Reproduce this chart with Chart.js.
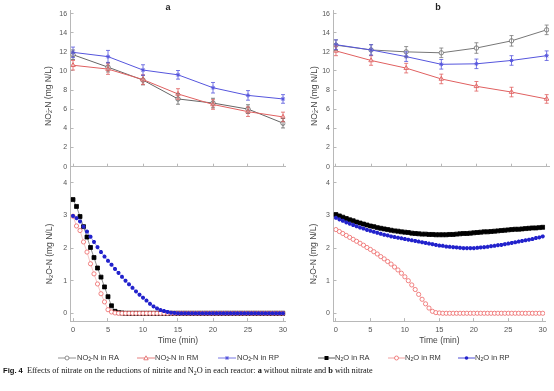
<!DOCTYPE html>
<html><head><meta charset="utf-8">
<script src="https://cdn.jsdelivr.net/npm/chart.js@4/dist/chart.umd.min.js"></script>
<style>
html,body{margin:0;padding:0;background:#fff;}
#wrap{position:relative;width:554px;height:391px;overflow:hidden;font-family:"Liberation Sans",Arial,sans-serif;color:#444;}
canvas{position:absolute;left:0;top:0;}
.t{position:absolute;white-space:nowrap;line-height:1;}
.yt{font-size:8.5px;color:#444;transform:translate(-50%,-50%) rotate(-90deg);}
.sub{font-size:0.7em;vertical-align:-0.25em;}
.sup{font-size:0.7em;vertical-align:0.45em;margin-left:-0.45em;}
.ttl{font-size:9px;font-weight:bold;color:#222;transform:translate(-50%,-50%);}
.lg{font-size:7.5px;color:#333;transform:translateY(-50%);}
.lgs{position:absolute;transform:translateY(-50%);}
.cap{font-size:8.25px;color:#111;font-family:"Liberation Serif","Times New Roman",serif;transform:translateY(-50%);}
.cap b.f{font-family:"Liberation Sans",Arial,sans-serif;font-size:7.6px;}
</style></head>
<body><div id="wrap">
<canvas id="ca1" width="554" height="391"></canvas>
<canvas id="cb1" width="554" height="391"></canvas>
<canvas id="ca2" width="554" height="391"></canvas>
<canvas id="cb2" width="554" height="391"></canvas>

<div class="t ttl" style="left:168px;top:7px;">a</div>
<div class="t ttl" style="left:438px;top:7px;">b</div>

<div class="t yt" style="left:49px;top:96px;">NO<span class="sub">2</span><span class="sup">-</span>-N (mg N/L)</div>
<div class="t yt" style="left:315px;top:96px;">NO<span class="sub">2</span><span class="sup">-</span>-N (mg N/L)</div>
<div class="t yt" style="left:50px;top:254px;">N<span class="sub">2</span>O-N (mg N/L)</div>
<div class="t yt" style="left:314px;top:254px;">N<span class="sub">2</span>O-N (mg N/L)</div>

<svg class="lgs" style="left:58px;top:358px" width="18" height="8"><line x1="0" y1="4" x2="18" y2="4" stroke="#777" stroke-width="0.8"/><circle cx="9" cy="4" r="2" fill="#fff" stroke="#777" stroke-width="0.8"/></svg>
<div class="t lg" style="left:77px;top:358px;">NO<span class="sub">2</span><span class="sup">-</span>-N in RA</div>
<svg class="lgs" style="left:137px;top:358px" width="18" height="8"><line x1="0" y1="4" x2="18" y2="4" stroke="#e06060" stroke-width="0.8"/><path d="M9 1.8 L11.2 5.8 L6.8 5.8 Z" fill="#fff" stroke="#e06060" stroke-width="0.8"/></svg>
<div class="t lg" style="left:155px;top:358px;">NO<span class="sub">2</span><span class="sup">-</span>-N in RM</div>
<svg class="lgs" style="left:218px;top:358px" width="18" height="8"><line x1="0" y1="4" x2="18" y2="4" stroke="#5555dd" stroke-width="0.8"/><path d="M9 2 L9 6 M7 4 L11 4 M7.6 2.6 L10.4 5.4 M10.4 2.6 L7.6 5.4" stroke="#5555dd" stroke-width="0.9"/></svg>
<div class="t lg" style="left:237px;top:358px;">NO<span class="sub">2</span><span class="sup">-</span>-N in RP</div>
<svg class="lgs" style="left:318px;top:358px" width="17" height="8"><line x1="0" y1="4" x2="17" y2="4" stroke="#333" stroke-width="0.8"/><rect x="6.5" y="2" width="4" height="4" fill="#000"/></svg>
<div class="t lg" style="left:335px;top:358px;">N<span class="sub">2</span>O in RA</div>
<svg class="lgs" style="left:388px;top:358px" width="17" height="8"><line x1="0" y1="4" x2="17" y2="4" stroke="#e88" stroke-width="0.8"/><circle cx="8.5" cy="4" r="2" fill="#fff" stroke="#e66" stroke-width="0.8"/></svg>
<div class="t lg" style="left:405px;top:358px;">N<span class="sub">2</span>O in RM</div>
<svg class="lgs" style="left:458px;top:358px" width="17" height="8"><line x1="0" y1="4" x2="17" y2="4" stroke="#2222cc" stroke-width="0.8"/><circle cx="8.5" cy="4" r="1.8" fill="#2222cc"/></svg>
<div class="t lg" style="left:475px;top:358px;">N<span class="sub">2</span>O in RP</div>

<div class="t cap" style="left:3px;top:372px;"><b class="f">Fig. 4</b>&nbsp;&nbsp;Effects of nitrate on the reductions of nitrite and N<span class="sub">2</span>O in each reactor: <b>a</b> without nitrate and <b>b</b> with nitrate</div>
</div>
<script>
// ---------- DATA ----------
const timeNO2 = [0, 5, 10, 15, 20, 25, 30];
const xTicks = [0, 5, 10, 15, 20, 25, 30];
const yTicksNO2 = [0, 2, 4, 6, 8, 10, 12, 14, 16];
const yTicksN2O = [0, 1, 2, 3, 4];

// Panel a (without nitrate) – NO2--N
const no2A_RA = [11.7, 10.4, 9.05, 7.08, 6.65, 6.02, 4.55];
const no2A_RA_err = [0.5, 0.5, 0.5, 0.55, 0.5, 0.45, 0.5];
const no2A_RM = [10.6, 10.2, 9.1, 7.6, 6.5, 5.75, 5.2];
const no2A_RM_err = [0.5, 0.55, 0.5, 0.55, 0.5, 0.5, 0.5];
const no2A_RP = [11.95, 11.5, 10.1, 9.6, 8.25, 7.45, 7.08];
const no2A_RP_err = [0.55, 0.65, 0.55, 0.45, 0.55, 0.5, 0.45];

// Panel b (with nitrate) – NO2--N
const no2B_RA = [12.7, 12.2, 12.0, 11.9, 12.4, 13.15, 14.3];
const no2B_RA_err = [0.55, 0.55, 0.55, 0.5, 0.55, 0.55, 0.5];
const no2B_RM = [12.1, 11.1, 10.3, 9.17, 8.4, 7.8, 7.08];
const no2B_RM_err = [0.5, 0.5, 0.5, 0.5, 0.5, 0.5, 0.45];
const no2B_RP = [12.75, 12.2, 11.5, 10.7, 10.75, 11.1, 11.6];
const no2B_RP_err = [0.5, 0.55, 0.5, 0.5, 0.5, 0.5, 0.5];

// N2O time points (min)
const timeN2O = [0,0.5,1,1.5,2,2.5,3,3.5,4,4.5,5,5.5,6,6.5,7,7.5,8,8.5,9,9.5,10,10.5,11,11.5,12,12.5,13,13.5,14,14.5,15,15.5,16,16.5,17,17.5,18,18.5,19,19.5,20,20.5,21,21.5,22,22.5,23,23.5,24,24.5,25,25.5,26,26.5,27,27.5,28,28.5,29,29.5,30];

// Panel a – N2O
const n2oA_RA = [3.49,3.28,2.97,2.66,2.34,2.02,1.71,1.39,1.11,0.81,0.51,0.23,0.06,0.02,0.01,0,0,0,0,0,0,0,0,0,0,0,0,0,0,0,0,0,0,0,0,0,0,0,0,0,0,0,0,0,0,0,0,0,0,0,0,0,0,0,0,0,0,0,0,0,0];
const n2oA_RM = [2.98,2.68,2.54,2.19,1.88,1.52,1.21,0.90,0.60,0.35,0.11,0.04,0.01,0,0,0,0,0,0,0,0,0,0,0,0,0,0,0,0,0,0,0,0,0,0,0,0,0,0,0,0,0,0,0,0,0,0,0,0,0,0,0,0,0,0,0,0,0,0,0,0];
const n2oA_RP = [2.99,2.92,2.82,2.66,2.51,2.35,2.19,2.03,1.88,1.74,1.61,1.49,1.36,1.24,1.12,1.00,0.89,0.78,0.67,0.57,0.48,0.39,0.29,0.21,0.15,0.10,0.07,0.04,0.02,0.01,0,0,0,0,0,0,0,0,0,0,0,0,0,0,0,0,0,0,0,0,0,0,0,0,0,0,0,0,0,0,0];

// Panel b – N2O
const n2oB_RA = [3.03,2.99,2.95,2.91,2.87,2.84,2.80,2.77,2.74,2.71,2.68,2.66,2.63,2.61,2.59,2.57,2.55,2.53,2.52,2.50,2.49,2.48,2.46,2.45,2.44,2.43,2.43,2.42,2.42,2.41,2.41,2.41,2.41,2.42,2.42,2.43,2.44,2.45,2.45,2.46,2.47,2.48,2.49,2.50,2.50,2.51,2.52,2.53,2.54,2.55,2.56,2.57,2.58,2.58,2.59,2.60,2.61,2.62,2.62,2.63,2.64];
const n2oB_RM = [2.57,2.51,2.45,2.39,2.33,2.27,2.21,2.15,2.09,2.02,1.96,1.89,1.82,1.74,1.67,1.59,1.51,1.42,1.33,1.23,1.12,1.00,0.87,0.73,0.58,0.43,0.29,0.16,0.06,0.02,0.01,0,0,0,0,0,0,0,0,0,0,0,0,0,0,0,0,0,0,0,0,0,0,0,0,0,0,0,0,0,0];
const n2oB_RP = [2.93,2.88,2.84,2.79,2.75,2.71,2.67,2.63,2.60,2.56,2.53,2.50,2.47,2.44,2.41,2.39,2.36,2.34,2.32,2.30,2.28,2.26,2.24,2.22,2.20,2.18,2.16,2.14,2.12,2.10,2.08,2.07,2.05,2.04,2.03,2.02,2.01,2.00,2.00,2.00,2.00,2.01,2.02,2.03,2.04,2.06,2.07,2.09,2.10,2.12,2.14,2.16,2.18,2.20,2.22,2.24,2.26,2.28,2.31,2.33,2.36];

// ---------- HELPERS ----------
const pts = (xs, ys) => xs.map((x, i) => ({x: x, y: ys[i]}));
const FONT = "'Liberation Sans', Arial, sans-serif";

const errorBarPlugin = {
  id: 'errbars',
  afterDatasetsDraw(chart) {
    const ctx = chart.ctx, xs = chart.scales.x, ys = chart.scales.y;
    chart.data.datasets.forEach((ds) => {
      if (!ds.errors) return;
      ctx.save();
      ctx.strokeStyle = ds.borderColor;
      ctx.lineWidth = 0.8;
      ds.data.forEach((p, j) => {
        const e = ds.errors[j];
        const x = xs.getPixelForValue(p.x);
        const y1 = ys.getPixelForValue(p.y - e);
        const y2 = ys.getPixelForValue(p.y + e);
        ctx.beginPath();
        ctx.moveTo(x, y1); ctx.lineTo(x, y2);
        ctx.moveTo(x - 2, y1); ctx.lineTo(x + 2, y1);
        ctx.moveTo(x - 2, y2); ctx.lineTo(x + 2, y2);
        ctx.stroke();
      });
      ctx.restore();
    });
  }
};

function makeChart(id, box, yr, yTicks, showX, datasets) {
  const Wy = 30, Hx = showX ? 24.4 : 4;
  return new Chart(document.getElementById(id), {
    type: 'line',
    data: {datasets: datasets},
    plugins: [errorBarPlugin],
    options: {
      responsive: false, animation: false, devicePixelRatio: 1,
      layout: {padding: {left: box.L - Wy, right: 554 - box.R, top: box.T, bottom: 391 - box.B - Hx}},
      plugins: {legend: {display: false}, tooltip: {enabled: false}, title: {display: false}},
      scales: {
        x: {
          type: 'linear', min: -0.35, max: 30.35,
          afterBuildTicks: s => { s.ticks = xTicks.map(v => ({value: v})); },
          afterFit: s => { s.height = Hx; },
          grid: {drawOnChartArea: false, drawTicks: true, tickLength: -3, color: '#b8b8b8'},
          border: {display: true, color: '#b8b8b8', width: 1},
          ticks: {display: showX, padding: 7, maxRotation: 0, autoSkip: false, color: '#555', font: {family: FONT, size: 7.5}},
          title: {display: showX, text: 'Time (min)', color: '#444', padding: 0, font: {family: FONT, size: 8.5}}
        },
        y: {
          type: 'linear', min: yr[0], max: yr[1],
          afterBuildTicks: s => { s.ticks = yTicks.map(v => ({value: v})); },
          afterFit: s => { s.width = Wy; },
          grid: {drawOnChartArea: false, drawTicks: true, tickLength: -3, color: '#b8b8b8'},
          border: {display: true, color: '#b8b8b8', width: 1},
          ticks: {padding: 6.5, color: '#555', font: {family: FONT, size: 7}},
          title: {display: false}
        }
      }
    }
  });
}

function no2Set(label, data, err, color, style, order) {
  return {label: label, data: pts(timeNO2, data), errors: err, borderColor: color, backgroundColor: '#fff',
    borderWidth: 1, pointStyle: style, pointRadius: style === 'triangle' ? 2.6 : 2.2, pointBorderWidth: 0.9,
    pointBorderColor: color, pointBackgroundColor: style === 'star' ? color : '#fff', tension: 0, order: order};
}
function n2oSet(label, data, color, lineColor, style, fill, radius, order) {
  return {label: label, data: pts(timeN2O, data), borderColor: lineColor, backgroundColor: fill,
    borderWidth: 0.6, pointStyle: style, pointRadius: radius, pointBorderWidth: style === 'star' ? 1.3 : 0.8,
    pointBorderColor: color, pointBackgroundColor: fill, tension: 0, order: order};
}

const C_RA = '#666', C_RM = '#e06060', C_RP = '#5555dd';

makeChart('ca1', {L: 70.55, R: 285.45, T: 9.8, B: 166.7}, [0, 16.3], yTicksNO2, false, [
  no2Set('NO2--N in RA', no2A_RA, no2A_RA_err, C_RA, 'circle', 3),
  no2Set('NO2--N in RM', no2A_RM, no2A_RM_err, C_RM, 'triangle', 2),
  no2Set('NO2--N in RP', no2A_RP, no2A_RP_err, C_RP, 'star', 1)
]);
makeChart('cb1', {L: 333.5, R: 549.2, T: 9.8, B: 166.7}, [0, 16.3], yTicksNO2, false, [
  no2Set('NO2--N in RA', no2B_RA, no2B_RA_err, '#777', 'circle', 3),
  no2Set('NO2--N in RM', no2B_RM, no2B_RM_err, C_RM, 'triangle', 2),
  no2Set('NO2--N in RP', no2B_RP, no2B_RP_err, C_RP, 'star', 1)
]);
makeChart('ca2', {L: 70.55, R: 285.45, T: 166.7, B: 321.1}, [-0.24, 4.5], yTicksN2O, true, [
  n2oSet('N2O in RA', n2oA_RA, '#000', '#444', 'rect', '#000', 2.8, 3),
  n2oSet('N2O in RM', n2oA_RM, '#e66', '#f0a0a0', 'circle', '#fff', 2.1, 2),
  n2oSet('N2O in RP', n2oA_RP, '#2222cc', '#6666dd', 'star', '#2222cc', 2.0, 1)
]);
makeChart('cb2', {L: 333.5, R: 549.2, T: 166.7, B: 321.1}, [-0.24, 4.5], yTicksN2O, true, [
  n2oSet('N2O in RA', n2oB_RA, '#000', '#444', 'rect', '#000', 2.8, 3),
  n2oSet('N2O in RM', n2oB_RM, '#e66', '#f0a0a0', 'circle', '#fff', 2.1, 2),
  n2oSet('N2O in RP', n2oB_RP, '#2222cc', '#6666dd', 'star', '#2222cc', 2.0, 1)
]);
</script>
</body></html>
